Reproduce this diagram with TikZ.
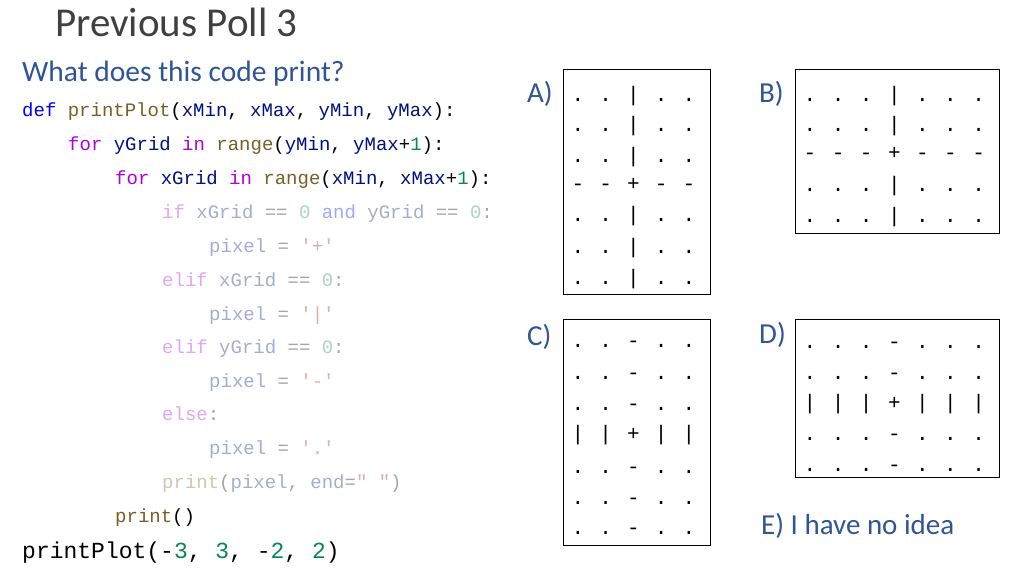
\documentclass[tikz,border=0pt]{standalone}
\usepackage{fontspec}
\setmainfont{Carlito}
\newfontfamily\codefont{Liberation Mono}
\usetikzlibrary{positioning}
\definecolor{titleColor}{RGB}{64,64,64}
\definecolor{askColor}{RGB}{47,85,151}
\definecolor{kwColor}{RGB}{0,0,255}
\definecolor{fnColor}{RGB}{121,94,38}
\definecolor{parColor}{RGB}{0,16,128}
\definecolor{ctlColor}{RGB}{175,0,219}
\definecolor{numColor}{RGB}{9,134,88}
\definecolor{strColor}{RGB}{163,21,21}
\tikzset{
  code/.style={anchor=base west,inner sep=0pt,font=\codefont\fontsize{19}{19}\selectfont},
  cell/.style={anchor=base,inner sep=0pt,font=\codefont\fontsize{21}{21}\selectfont},
  answer/.style={draw=black,line width=0.6pt},
  letter/.style={anchor=base west,inner sep=0pt,text=askColor,font=\fontsize{29}{29}\selectfont}
}
\begin{document}
\begin{tikzpicture}[x=1pt,y=-1pt]
\path[use as bounding box,fill=white] (0,0) rectangle (1024,576);

% heading
\node[anchor=base west,inner sep=0pt,text=titleColor,font=\fontsize{41}{41}\selectfont] (title) at (55,36) {Previous Poll 3};
\node[anchor=base west,inner sep=0pt,text=askColor,font=\fontsize{29.5}{29.5}\selectfont] (ask) at (22,81) {What does this code print?};

% code
\node[code] (l1) at (22,116) {\textcolor{kwColor}{def} \textcolor{fnColor}{printPlot}(\textcolor{parColor}{xMin}, \textcolor{parColor}{xMax}, \textcolor{parColor}{yMin}, \textcolor{parColor}{yMax}):};
\node[code] (l2) at (68,150) {\textcolor{ctlColor}{for} \textcolor{parColor}{yGrid} \textcolor{ctlColor}{in} \textcolor{fnColor}{range}(\textcolor{parColor}{yMin}, \textcolor{parColor}{yMax}+\textcolor{numColor}{1}):};
\node[code] (l3) at (115,184) {\textcolor{ctlColor}{for} \textcolor{parColor}{xGrid} \textcolor{ctlColor}{in} \textcolor{fnColor}{range}(\textcolor{parColor}{xMin}, \textcolor{parColor}{xMax}+\textcolor{numColor}{1}):};
\begin{scope}[opacity=0.35]
\node[code] (l4) at (162,218) {\textcolor{ctlColor}{if} \textcolor{parColor}{xGrid} == \textcolor{numColor}{0} \textcolor{kwColor}{and} \textcolor{parColor}{yGrid} == \textcolor{numColor}{0}:};
\node[code] (l5) at (209,252) {\textcolor{parColor}{pixel} = \textcolor{strColor}{'+'}};
\node[code] (l6) at (162,286) {\textcolor{ctlColor}{elif} \textcolor{parColor}{xGrid} == \textcolor{numColor}{0}:};
\node[code] (l7) at (209,320) {\textcolor{parColor}{pixel} = \textcolor{strColor}{'|'}};
\node[code] (l8) at (162,353) {\textcolor{ctlColor}{elif} \textcolor{parColor}{yGrid} == \textcolor{numColor}{0}:};
\node[code] (l9) at (209,387) {\textcolor{parColor}{pixel} = \textcolor{strColor}{'-'}};
\node[code] (l10) at (162,420) {\textcolor{ctlColor}{else}:};
\node[code] (l11) at (209,454) {\textcolor{parColor}{pixel} = \textcolor{strColor}{'.'}};
\node[code] (l12) at (162,488) {\textcolor{fnColor}{print}(\textcolor{parColor}{pixel}, \textcolor{parColor}{end}=\textcolor{strColor}{" "})};
\end{scope}
\node[code] (l13) at (115,522) {\textcolor{fnColor}{print}()};
\node[code,font=\codefont\fontsize{23}{23}\selectfont] (call) at (22,558) {printPlot(-\textcolor{numColor}{3}, \textcolor{numColor}{3}, -\textcolor{numColor}{2}, \textcolor{numColor}{2})};

% answer boxes
\draw[answer] (563,69) rectangle (710,294);
\draw[answer] (795,69) rectangle (999,233);
\draw[answer] (563,319) rectangle (710,545);
\draw[answer] (795,319) rectangle (999,477);
\node[letter] (la) at (527,102) {A)};
\node[letter] (lb) at (759,102) {B)};
\node[letter] (lc) at (527,345) {C)};
\node[letter] (ld) at (759,343) {D)};
\node[letter] (le) at (761,534) {E) I have no idea};

% A
\foreach \y/\row in {101/{.,.,|,.,.},131/{.,.,|,.,.},162/{.,.,|,.,.},190/{-,-,+,-,-},
                     221/{.,.,|,.,.},253/{.,.,|,.,.},284/{.,.,|,.,.}}
  \foreach \ch [count=\i] in \row
    \node[cell] at (578+27.75*\i-27.75,\y) {\ch};
% B
\foreach \y/\row in {101/{.,.,.,|,.,.,.},131/{.,.,.,|,.,.,.},159/{-,-,-,+,-,-,-},
                     191/{.,.,.,|,.,.,.},222/{.,.,.,|,.,.,.}}
  \foreach \ch [count=\i] in \row
    \node[cell] at (810+28.1*\i-28.1,\y) {\ch};
% C
\foreach \y/\row in {347/{.,.,-,.,.},379/{.,.,-,.,.},410/{.,.,-,.,.},440/{|,|,+,|,|},
                     473/{.,.,-,.,.},504/{.,.,-,.,.},534/{.,.,-,.,.}}
  \foreach \ch [count=\i] in \row
    \node[cell] at (578+27.75*\i-27.75,\y) {\ch};
% D
\foreach \y/\row in {348/{.,.,.,-,.,.,.},379/{.,.,.,-,.,.,.},409/{|,|,|,+,|,|,|},
                     440/{.,.,.,-,.,.,.},471/{.,.,.,-,.,.,.}}
  \foreach \ch [count=\i] in \row
    \node[cell] at (810+28.1*\i-28.1,\y) {\ch};
\end{tikzpicture}
\end{document}
